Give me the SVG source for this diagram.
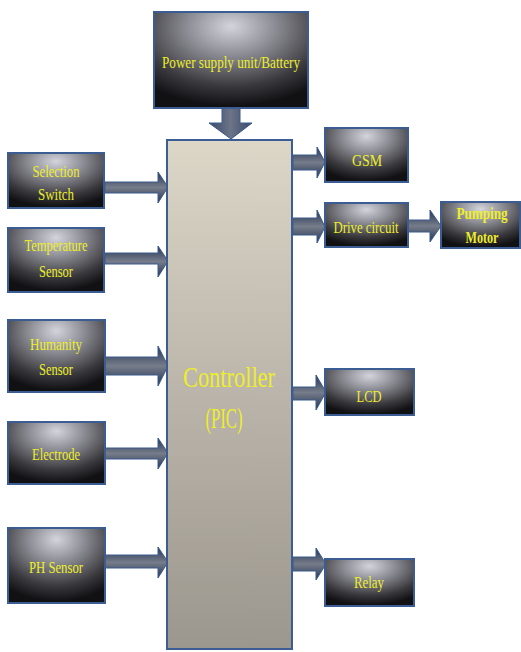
<svg xmlns="http://www.w3.org/2000/svg" width="521" height="652" viewBox="0 0 521 652">
<defs>
<radialGradient id="boxg" cx="50%" cy="18%" r="80%" fx="50%" fy="15%">
<stop offset="0" stop-color="#d4d4dc"/>
<stop offset="0.35" stop-color="#8e8e96"/>
<stop offset="0.75" stop-color="#3a3a3e"/>
<stop offset="1" stop-color="#111114"/>
</radialGradient>
<linearGradient id="ctrlg" x1="0" y1="0" x2="0" y2="1">
<stop offset="0" stop-color="#ddd7c8"/>
<stop offset="0.5" stop-color="#bab4aa"/>
<stop offset="1" stop-color="#9c978e"/>
</linearGradient>
<linearGradient id="arrh" x1="0" y1="0" x2="0" y2="1">
<stop offset="0" stop-color="#243452"/>
<stop offset="0.5" stop-color="#767c8a"/>
<stop offset="1" stop-color="#243452"/>
</linearGradient>
<linearGradient id="arrv" x1="0" y1="0" x2="1" y2="0">
<stop offset="0" stop-color="#3a4a68"/>
<stop offset="0.5" stop-color="#6c7488"/>
<stop offset="1" stop-color="#3a4a68"/>
</linearGradient>
</defs>
<style>
.box{fill:url(#boxg);stroke:#3c5c94;stroke-width:2}
.t{font-family:"Liberation Serif","Times New Roman",serif;fill:#eeee2a;text-anchor:middle}
.arr{fill:url(#arrh);stroke:#3a5a8e;stroke-width:1}
</style>
<rect width="521" height="652" fill="#ffffff"/>

<g id="connectors">
<path class="arr" style="fill:url(#arrv)" d="M222 108 L240 108 L240 123 L252 123 L231 139 L209 123 L222 123 Z"/>
<path class="arr" d="M105 182 L158 182 L158 172 L168 187 L158 203 L158 193 L105 193 Z"/>
<path class="arr" d="M105 253 L158 253 L158 246 L168 261 L158 277 L158 264 L105 264 Z"/>
<path class="arr" d="M105 357 L158 357 L158 346 L168 366 L158 386 L158 375 L105 375 Z"/>
<path class="arr" d="M105 448 L158 448 L158 438 L168 453 L158 469 L158 459 L105 459 Z"/>
<path class="arr" d="M105 555 L158 555 L158 547 L168 562 L158 578 L158 568 L105 568 Z"/>
<path class="arr" d="M293 155 L317 155 L317 147 L325 162 L317 178 L317 170 L293 170 Z"/>
<path class="arr" d="M293 218 L317 218 L317 210 L325 227 L317 243 L317 235 L293 235 Z"/>
<path class="arr" d="M408 220 L430 220 L430 210 L441 226 L430 242 L430 232 L408 232 Z"/>
<path class="arr" d="M293 387 L316 387 L316 375 L326 392 L316 410 L316 400 L293 400 Z"/>
<path class="arr" d="M293 557 L316 557 L316 548 L326 564 L316 580 L316 571 L293 571 Z"/>
</g>

<g id="power">
<rect class="box" x="154" y="12" width="154" height="96"/>
<text class="t" x="231" y="68" font-size="16" textLength="138" lengthAdjust="spacingAndGlyphs">Power supply unit/Battery</text>
</g>

<g id="controller">
<rect x="167" y="140" width="125" height="509" fill="url(#ctrlg)" stroke="#3c5c94" stroke-width="2"/>
<text class="t" x="229" y="387" font-size="30" textLength="92" lengthAdjust="spacingAndGlyphs">Controller</text>
<text class="t" x="224" y="428" font-size="30" textLength="37" lengthAdjust="spacingAndGlyphs">(PIC)</text>
</g>

<g id="selection">
<rect class="box" x="8" y="153" width="96" height="55"/>
<text class="t" x="56" y="177" font-size="16" textLength="47" lengthAdjust="spacingAndGlyphs">Selection</text>
<text class="t" x="56" y="200" font-size="16" textLength="36" lengthAdjust="spacingAndGlyphs">Switch</text>
</g>

<g id="temperature">
<rect class="box" x="8" y="228" width="96" height="64"/>
<text class="t" x="56" y="251" font-size="16" textLength="63" lengthAdjust="spacingAndGlyphs">Temperature</text>
<text class="t" x="56" y="277" font-size="16" textLength="34" lengthAdjust="spacingAndGlyphs">Sensor</text>
</g>

<g id="humanity">
<rect class="box" x="8" y="320" width="97" height="72"/>
<text class="t" x="56" y="350" font-size="17" textLength="52" lengthAdjust="spacingAndGlyphs">Humanity</text>
<text class="t" x="56" y="375" font-size="17" textLength="34" lengthAdjust="spacingAndGlyphs">Sensor</text>
</g>

<g id="electrode">
<rect class="box" x="8" y="422" width="97" height="62"/>
<text class="t" x="56" y="460" font-size="17" textLength="48" lengthAdjust="spacingAndGlyphs">Electrode</text>
</g>

<g id="ph">
<rect class="box" x="8" y="528" width="97" height="75"/>
<text class="t" x="56" y="573" font-size="17" textLength="54" lengthAdjust="spacingAndGlyphs">PH Sensor</text>
</g>

<g id="gsm">
<rect class="box" x="325" y="128" width="83" height="54"/>
<text class="t" x="367" y="166" font-size="16" textLength="30" lengthAdjust="spacingAndGlyphs">GSM</text>
</g>

<g id="drive">
<rect class="box" x="325" y="203" width="83" height="44"/>
<text class="t" x="366" y="233" font-size="16" textLength="65" lengthAdjust="spacingAndGlyphs">Drive circuit</text>
</g>

<g id="pumping">
<rect class="box" x="441" y="202" width="79" height="46"/>
<text class="t" x="482" y="219" font-size="16" font-weight="bold" textLength="51" lengthAdjust="spacingAndGlyphs">Pumping</text>
<text class="t" x="482" y="243" font-size="16" font-weight="bold" textLength="33" lengthAdjust="spacingAndGlyphs">Motor</text>
</g>

<g id="lcd">
<rect class="box" x="325" y="369" width="89" height="46"/>
<text class="t" x="369" y="402" font-size="17" textLength="25" lengthAdjust="spacingAndGlyphs">LCD</text>
</g>

<g id="relay">
<rect class="box" x="325" y="559" width="89" height="47"/>
<text class="t" x="369" y="588" font-size="17" textLength="30" lengthAdjust="spacingAndGlyphs">Relay</text>
</g>
</svg>
